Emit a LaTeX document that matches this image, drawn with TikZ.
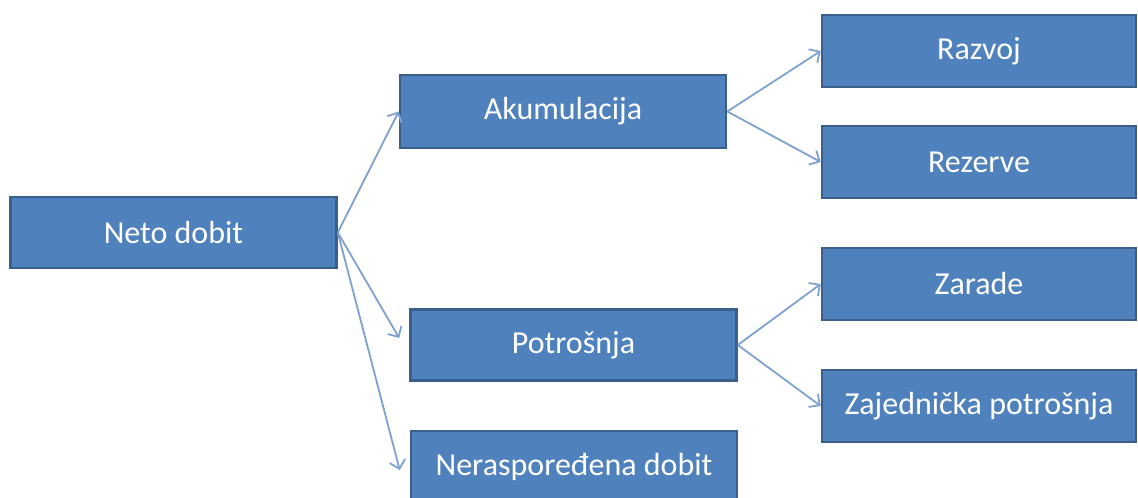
\documentclass[tikz,border=0pt]{standalone}
\usepackage{fontspec}
\setmainfont{Carlito}
\usepackage{xcolor}
\usetikzlibrary{arrows.meta}

\definecolor{boxfill}{HTML}{4F81BD}
\definecolor{boxline}{HTML}{3A5F8B}
\definecolor{arrowline}{HTML}{7EA1CF}

\begin{document}
\begin{tikzpicture}[
        x=0.5pt, y=-0.5pt,
        box/.style={rectangle, draw=boxline, line width=1.3pt, fill=boxfill, text=white, inner sep=0pt, align=center, minimum width=163pt, minimum height=35.5pt, font=\fontsize{16}{19}\selectfont},
        sidebox/.style={box, minimum width=157pt, minimum height=36pt},
        arrow/.style={-{Straight Barb[length=4pt,width=8pt]}, line width=0.9pt, draw=arrowline}
    ]
        \useasboundingbox (0,0) rectangle (1138,497);

        % Nodes
        \node[box] (neto) at (173.5,232.5) {Neto dobit};
        \node[box, minimum height=36.5pt] (akum) at (563,111.5) {Akumulacija};
        \node[box] (potr) at (573.5,345) {Potrošnja};
        \node[box, minimum height=36pt] (neras) at (574,467) {Neraspoređena dobit};
        \node[sidebox] (razvoj) at (979,51) {Razvoj};
        \node[sidebox] (rezerve) at (979,162) {Rezerve};
        \node[sidebox] (zarade) at (979,284) {Zarade};
        \node[sidebox] (zajed) at (979,406) {Zajednička potrošnja};

        % Edges
        \draw[arrow] (neto.east) -- (akum.west);
        \draw[arrow] (neto.east) -- ([shift={(-10,-7)}]potr.west);
        \draw[arrow] (neto.east) -- ([shift={(-10,3)}]neras.west);
        \draw[arrow] (akum.east) -- (razvoj.west);
        \draw[arrow] (akum.east) -- (rezerve.west);
        \draw[arrow] (potr.east) -- (zarade.west);
        \draw[arrow] (potr.east) -- (zajed.west);
    \end{tikzpicture}
\end{document}
